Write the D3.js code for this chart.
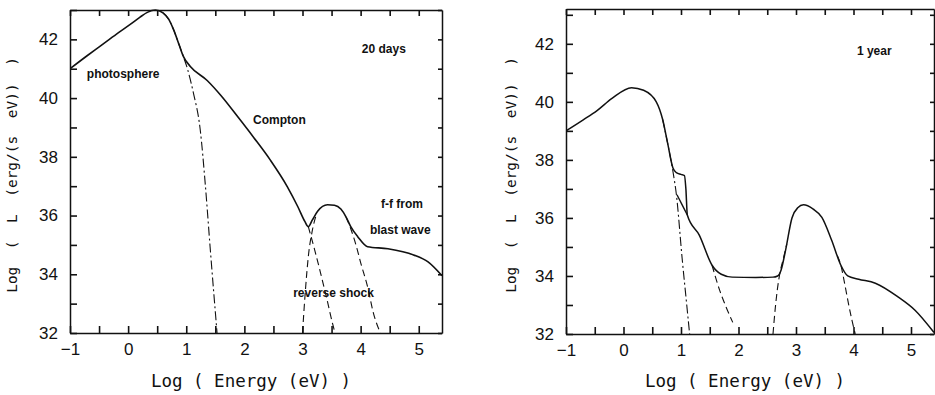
<!DOCTYPE html>
<html>
<head>
<meta charset="utf-8">
<script src="https://cdn.jsdelivr.net/npm/d3@7"></script>
<style>
  body { margin: 0; background: #fff; }
  svg { display: block; }
  .axis path { stroke: #111; stroke-width: 1.5px; }
  .axis line { stroke: #111; stroke-width: 1.6px; }
  .axis text { font-family: "Liberation Sans", Arial, sans-serif; font-size: 17px; fill: #111; }
  .title { font-family: "DejaVu Sans Mono", monospace; fill: #111; white-space: pre; }
  .note { font-family: "Liberation Sans", Arial, sans-serif; font-weight: bold; font-size: 12px; fill: #111; }
</style>
</head>
<body>
<svg id="chart" width="935" height="395"></svg>
<script>
// ---------------------------
// Data (log E [eV], log L [erg/(s eV)])
// ---------------------------
const xDomain = [-1, 5.4];
const xTickLabels = [-1, 0, 1, 2, 3, 4, 5];
const yTickLabels = [32, 34, 36, 38, 40, 42];

// 20 days
const day20Total = [[-1.0,41.0],[-0.7,41.45],[-0.48,41.77],[-0.2,42.18],[0.03,42.5],[0.2,42.75],[0.33,42.92],
  [0.47,43.0],[0.6,42.9],[0.7,42.68],[0.78,42.34],[0.88,41.8],[0.95,41.42],[1.07,41.08],[1.36,40.6],
  [1.6,40.08],[1.88,39.38],[2.16,38.66],[2.45,37.88],[2.74,36.98],[2.92,36.3],[3.04,35.8],[3.1,35.62],
  [3.17,35.85],[3.26,36.15],[3.43,36.37],[3.55,36.35],[3.66,36.22],[3.75,35.95],[3.83,35.62],[3.95,35.28],
  [4.12,34.94],[4.47,34.87],[4.91,34.66],[5.16,34.42],[5.4,33.95]];
const day20Photosphere = [[0.6,42.9],[0.7,42.68],[0.78,42.34],[0.88,41.8],[0.95,41.42],[1.02,41.0],
  [1.12,40.2],[1.24,38.93],[1.33,37.0],[1.41,34.94],[1.47,33.45],[1.53,32.0]];
const day20ComptonTail = [[3.1,35.62],[3.2,34.9],[3.31,34.05],[3.42,33.15],[3.52,32.3],[3.56,32.0]];
const day20ReverseRise = [[3.0,32.0],[3.05,33.45],[3.1,34.6],[3.17,35.5],[3.24,36.05]];
const day20ReverseFall = [[3.75,35.95],[3.83,35.55],[3.92,35.0],[4.0,34.4],[4.12,33.57],[4.22,32.68],[4.34,32.0]];

// 1 year
const year1Total = [[-1.0,39.0],[-0.7,39.38],[-0.46,39.7],[-0.2,40.12],[0.14,40.49],[0.35,40.4],[0.57,40.0],
  [0.68,39.4],[0.77,38.55],[0.86,37.72],[0.92,37.56],[1.0,37.5],[1.06,37.46],[1.085,37.0],[1.11,36.1],
  [1.32,35.4],[1.54,34.37],[1.7,34.06],[1.89,33.96],[2.3,33.95],[2.6,33.96],[2.68,34.0],[2.74,34.2],
  [2.82,34.9],[2.93,36.0],[3.03,36.35],[3.13,36.45],[3.3,36.3],[3.45,36.02],[3.62,35.23],[3.78,34.37],
  [3.9,34.0],[4.09,33.89],[4.38,33.75],[4.78,33.27],[5.07,32.82],[5.4,32.05]];
const year1Photosphere = [[0.68,39.4],[0.77,38.55],[0.86,37.6],[0.92,36.8],[1.02,34.6],[1.1,33.0],[1.15,32.0]];
const year1ComptonHead = [[0.93,36.8],[1.02,36.45],[1.11,36.1]];
const year1ComptonTail = [[1.54,34.37],[1.67,33.52],[1.78,32.95],[1.9,32.4]];
const year1ReverseRise = [[2.6,32.0],[2.64,32.9],[2.68,33.6],[2.72,34.1],[2.78,34.6],[2.84,35.1]];
const year1ReverseFall = [[3.72,34.7],[3.78,34.37],[3.85,33.7],[3.91,33.07],[3.97,32.5],[4.03,32.0]];

// ---------------------------
// Panels
// ---------------------------
const panels = [
  {
    id: 'p20', left: 70, right: 442, top: 10, bottom: 333, yTop: 43.0, labelX: 17,
    series: [
      { data: day20Photosphere, dash: '9,3,2,3', width: 1.1 },
      { data: day20ComptonTail, dash: '7,4', width: 1.1 },
      { data: day20ReverseRise, dash: '7,4', width: 1.1 },
      { data: day20ReverseFall, dash: '7,4', width: 1.1 },
      { data: day20Total, dash: null, width: 1.6 }
    ],
    notes: [
      { text: '20 days', at: [4.02, 41.54] },
      { text: 'photosphere', at: [-0.71, 40.69] },
      { text: 'Compton', at: [2.15, 39.12] },
      { text: 'f-f from', at: [4.35, 36.26] },
      { text: 'blast wave', at: [4.16, 35.37] },
      { text: 'reverse shock', at: [2.84, 33.23] }
    ]
  },
  {
    id: 'p1y', left: 566, right: 934, top: 9, bottom: 334, yTop: 43.2, labelX: 516,
    series: [
      { data: year1Photosphere, dash: '9,3,2,3', width: 1.1 },
      { data: year1ComptonTail, dash: '7,4', width: 1.1 },
      { data: year1ReverseRise, dash: '7,4', width: 1.1 },
      { data: year1ReverseFall, dash: '7,4', width: 1.1 },
      { data: year1ComptonHead, dash: null, width: 1.4 },
      { data: year1Total, dash: null, width: 1.5 }
    ],
    notes: [
      { text: '1 year', at: [4.06, 41.61] }
    ]
  }
];

const svg = d3.select('#chart');
panels.forEach(drawPanel);

function drawPanel(p) {
  const g = svg.append('g');
  const x = d3.scaleLinear().domain(xDomain).range([p.left, p.right]);
  const y = d3.scaleLinear().domain([32, p.yTop]).range([p.bottom, p.top]);

  const halfSteps = d3.range(-1, 5.01, 0.5);
  const unitSteps = d3.range(32, Math.floor(p.yTop) + 0.01, 1);
  const fmtX = d => xTickLabels.includes(d) ? d3.format('d')(d) : '';
  const fmtY = d => yTickLabels.includes(d) ? d3.format('d')(d) : '';

  // axes (ticks inward)
  g.append('g').attr('class', 'axis').attr('transform', `translate(0,${p.bottom})`)
    .call(d3.axisBottom(x).tickValues(halfSteps).tickSizeInner(-7).tickSizeOuter(0).tickPadding(10).tickFormat(fmtX));
  g.append('g').attr('class', 'axis').attr('transform', `translate(0,${p.top})`)
    .call(d3.axisTop(x).tickValues(halfSteps).tickSizeInner(-6).tickSizeOuter(0).tickFormat(''));
  g.append('g').attr('class', 'axis').attr('transform', `translate(${p.left},0)`)
    .call(d3.axisLeft(y).tickValues(unitSteps).tickSizeInner(-7).tickSizeOuter(0).tickPadding(12).tickFormat(fmtY));
  g.append('g').attr('class', 'axis').attr('transform', `translate(${p.right},0)`)
    .call(d3.axisRight(y).tickValues(unitSteps).tickSizeInner(-4).tickSizeOuter(0).tickFormat(''));

  // clip
  g.append('clipPath').attr('id', 'clip-' + p.id)
    .append('rect').attr('x', p.left).attr('y', p.top - 1)
    .attr('width', p.right - p.left).attr('height', p.bottom - p.top + 1);

  const line = d3.line()
    .x(d => x(d[0]))
    .y(d => y(d[1]))
    .curve(d3.curveMonotoneX);

  const curves = g.append('g').attr('clip-path', `url(#clip-${p.id})`);
  p.series.forEach(s => {
    curves.append('path')
      .attr('d', line(s.data))
      .attr('fill', 'none')
      .attr('stroke', '#111')
      .attr('stroke-width', s.width)
      .attr('stroke-linejoin', 'round')
      .attr('stroke-dasharray', s.dash);
  });

  // annotations
  p.notes.forEach(n => {
    g.append('text').attr('class', 'note')
      .attr('x', x(n.at[0])).attr('y', y(n.at[1]))
      .text(n.text);
  });

  // axis titles
  const cx = (p.left + p.right) / 2;
  g.append('text').attr('class', 'title')
    .attr('x', cx - 5).attr('y', 387)
    .attr('text-anchor', 'middle')
    .style('font-size', '17.5px')
    .text('Log ( Energy (eV) )');

  g.append('text').attr('class', 'title')
    .attr('transform', `translate(${p.labelX},175) rotate(-90)`)
    .attr('text-anchor', 'middle')
    .style('font-size', '14.5px')
    .text('Log  (  L  (erg/(s  eV))  )');
}
</script>
</body>
</html>
